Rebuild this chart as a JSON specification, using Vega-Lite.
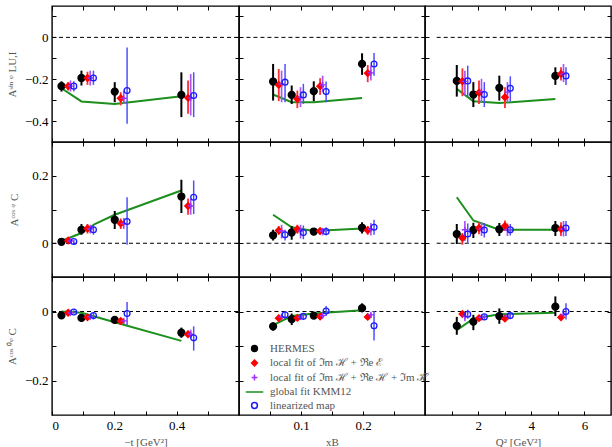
{
"$schema": "https://vega.github.io/schema/vega-lite/v6.json",
"background": "white",
"padding": {"left": 5, "top": 4, "right": 3, "bottom": 0},
"columns": 3,
"spacing": 0,
"bounds": "flush",
"datasets": {
"zero": [{"z": 0}],
"pts": [
{"p":"A1","s":"H","x":0.0304,"y":-0.233,"lo":-0.259,"hi":-0.21},
{"p":"A1","s":"H","x":0.0945,"y":-0.194,"lo":-0.23,"hi":-0.159},
{"p":"A1","s":"H","x":0.2013,"y":-0.259,"lo":-0.31,"hi":-0.214},
{"p":"A1","s":"H","x":0.4151,"y":-0.275,"lo":-0.381,"hi":-0.167},
{"p":"A1","s":"R","x":0.0518,"y":-0.233,"lo":-0.254,"hi":-0.214},
{"p":"A1","s":"R","x":0.1138,"y":-0.194,"lo":-0.227,"hi":-0.164},
{"p":"A1","s":"R","x":0.2205,"y":-0.291,"lo":-0.325,"hi":-0.262},
{"p":"A1","s":"R","x":0.4365,"y":-0.289,"lo":-0.365,"hi":-0.206},
{"p":"A1","s":"P","x":0.0593,"y":-0.233,"lo":-0.259,"hi":-0.206},
{"p":"A1","s":"P","x":0.1226,"y":-0.194,"lo":-0.23,"hi":-0.159},
{"p":"A1","s":"P","x":0.2302,"y":-0.291,"lo":-0.318,"hi":-0.254},
{"p":"A1","s":"P","x":0.445,"y":-0.289,"lo":-0.373,"hi":-0.175},
{"p":"A1","s":"B","x":0.07,"y":-0.233,"lo":-0.259,"hi":-0.21},
{"p":"A1","s":"B","x":0.133,"y":-0.194,"lo":-0.227,"hi":-0.159},
{"p":"A1","s":"B","x":0.2409,"y":-0.254,"lo":-0.413,"hi":-0.048},
{"p":"A1","s":"B","x":0.4546,"y":-0.278,"lo":-0.381,"hi":-0.167},
{"p":"A2","s":"H","x":0.055,"y":-0.211,"lo":-0.302,"hi":-0.127},
{"p":"A2","s":"H","x":0.085,"y":-0.275,"lo":-0.318,"hi":-0.23},
{"p":"A2","s":"H","x":0.1206,"y":-0.257,"lo":-0.305,"hi":-0.21},
{"p":"A2","s":"H","x":0.1985,"y":-0.127,"lo":-0.179,"hi":-0.076},
{"p":"A2","s":"R","x":0.0641,"y":-0.227,"lo":-0.305,"hi":-0.151},
{"p":"A2","s":"R","x":0.0941,"y":-0.294,"lo":-0.338,"hi":-0.254},
{"p":"A2","s":"R","x":0.1308,"y":-0.233,"lo":-0.275,"hi":-0.195},
{"p":"A2","s":"R","x":0.2076,"y":-0.171,"lo":-0.214,"hi":-0.132},
{"p":"A2","s":"P","x":0.0687,"y":-0.222,"lo":-0.31,"hi":-0.159},
{"p":"A2","s":"P","x":0.0992,"y":-0.286,"lo":-0.333,"hi":-0.238},
{"p":"A2","s":"P","x":0.1349,"y":-0.227,"lo":-0.262,"hi":-0.183},
{"p":"A2","s":"P","x":0.2127,"y":-0.17,"lo":-0.206,"hi":-0.135},
{"p":"A2","s":"B","x":0.0743,"y":-0.214,"lo":-0.31,"hi":-0.127},
{"p":"A2","s":"B","x":0.1038,"y":-0.275,"lo":-0.318,"hi":-0.222},
{"p":"A2","s":"B","x":0.1405,"y":-0.259,"lo":-0.31,"hi":-0.211},
{"p":"A2","s":"B","x":0.2178,"y":-0.127,"lo":-0.183,"hi":-0.075},
{"p":"A3","s":"H","x":1.196,"y":-0.208,"lo":-0.283,"hi":-0.132},
{"p":"A3","s":"H","x":1.82,"y":-0.273,"lo":-0.333,"hi":-0.214},
{"p":"A3","s":"H","x":2.797,"y":-0.241,"lo":-0.302,"hi":-0.183},
{"p":"A3","s":"H","x":4.906,"y":-0.184,"lo":-0.227,"hi":-0.143},
{"p":"A3","s":"R","x":1.408,"y":-0.21,"lo":-0.281,"hi":-0.148},
{"p":"A3","s":"R","x":2.032,"y":-0.265,"lo":-0.318,"hi":-0.206},
{"p":"A3","s":"R","x":3.009,"y":-0.286,"lo":-0.338,"hi":-0.238},
{"p":"A3","s":"R","x":5.118,"y":-0.175,"lo":-0.206,"hi":-0.143},
{"p":"A3","s":"P","x":1.502,"y":-0.21,"lo":-0.278,"hi":-0.159},
{"p":"A3","s":"P","x":2.126,"y":-0.259,"lo":-0.31,"hi":-0.198},
{"p":"A3","s":"P","x":3.104,"y":-0.262,"lo":-0.31,"hi":-0.214},
{"p":"A3","s":"P","x":5.212,"y":-0.175,"lo":-0.214,"hi":-0.127},
{"p":"A3","s":"B","x":1.608,"y":-0.208,"lo":-0.283,"hi":-0.135},
{"p":"A3","s":"B","x":2.232,"y":-0.273,"lo":-0.333,"hi":-0.214},
{"p":"A3","s":"B","x":3.21,"y":-0.243,"lo":-0.306,"hi":-0.186},
{"p":"A3","s":"B","x":5.306,"y":-0.184,"lo":-0.227,"hi":-0.143},
{"p":"B1","s":"H","x":0.0304,"y":0.0044,"lo":-0.0007,"hi":0.0104},
{"p":"B1","s":"H","x":0.0945,"y":0.04,"lo":0.0252,"hi":0.057},
{"p":"B1","s":"H","x":0.2013,"y":0.0696,"lo":0.0422,"hi":0.0956},
{"p":"B1","s":"H","x":0.4151,"y":0.1385,"lo":0.0896,"hi":0.1881},
{"p":"B1","s":"R","x":0.0518,"y":0.0081,"lo":0.003,"hi":0.0126},
{"p":"B1","s":"R","x":0.1138,"y":0.0437,"lo":0.0289,"hi":0.057},
{"p":"B1","s":"R","x":0.2205,"y":0.0585,"lo":0.0422,"hi":0.0733},
{"p":"B1","s":"R","x":0.4365,"y":0.1104,"lo":0.0844,"hi":0.1326},
{"p":"B1","s":"P","x":0.0593,"y":0.0067,"lo":0.0015,"hi":0.0126},
{"p":"B1","s":"P","x":0.1226,"y":0.0422,"lo":0.0289,"hi":0.0548},
{"p":"B1","s":"P","x":0.2302,"y":0.0585,"lo":0.0422,"hi":0.0748},
{"p":"B1","s":"P","x":0.445,"y":0.1104,"lo":0.0844,"hi":0.1326},
{"p":"B1","s":"B","x":0.07,"y":0.0052,"lo":-0.0007,"hi":0.0104},
{"p":"B1","s":"B","x":0.133,"y":0.04,"lo":0.0252,"hi":0.0548},
{"p":"B1","s":"B","x":0.2409,"y":0.0644,"lo":-0.0044,"hi":0.1363},
{"p":"B1","s":"B","x":0.4546,"y":0.1363,"lo":0.0867,"hi":0.1859},
{"p":"B2","s":"H","x":0.055,"y":0.0237,"lo":0.0081,"hi":0.04},
{"p":"B2","s":"H","x":0.085,"y":0.0319,"lo":0.0104,"hi":0.0511},
{"p":"B2","s":"H","x":0.1206,"y":0.0348,"lo":0.023,"hi":0.0452},
{"p":"B2","s":"H","x":0.1985,"y":0.0459,"lo":0.0289,"hi":0.0622},
{"p":"B2","s":"R","x":0.0641,"y":0.0378,"lo":0.0252,"hi":0.0511},
{"p":"B2","s":"R","x":0.0941,"y":0.0415,"lo":0.0289,"hi":0.0548},
{"p":"B2","s":"R","x":0.1308,"y":0.0363,"lo":0.0252,"hi":0.0452},
{"p":"B2","s":"R","x":0.2076,"y":0.0385,"lo":0.0252,"hi":0.0511},
{"p":"B2","s":"P","x":0.0687,"y":0.0363,"lo":0.0141,"hi":0.0548},
{"p":"B2","s":"P","x":0.0992,"y":0.0363,"lo":0.0141,"hi":0.0548},
{"p":"B2","s":"P","x":0.1349,"y":0.0363,"lo":0.023,"hi":0.0452},
{"p":"B2","s":"P","x":0.2127,"y":0.0415,"lo":0.023,"hi":0.06},
{"p":"B2","s":"B","x":0.0743,"y":0.0252,"lo":0.0081,"hi":0.04},
{"p":"B2","s":"B","x":0.1038,"y":0.0319,"lo":0.0119,"hi":0.0526},
{"p":"B2","s":"B","x":0.1405,"y":0.0348,"lo":0.023,"hi":0.0474},
{"p":"B2","s":"B","x":0.2178,"y":0.0474,"lo":0.0252,"hi":0.0696},
{"p":"B3","s":"H","x":1.196,"y":0.0274,"lo":-0.0022,"hi":0.057},
{"p":"B3","s":"H","x":1.82,"y":0.0393,"lo":0.0156,"hi":0.0607},
{"p":"B3","s":"H","x":2.797,"y":0.0415,"lo":0.0215,"hi":0.06},
{"p":"B3","s":"H","x":4.906,"y":0.0452,"lo":0.0215,"hi":0.0659},
{"p":"B3","s":"R","x":1.408,"y":0.0156,"lo":-0.0044,"hi":0.0304},
{"p":"B3","s":"R","x":2.032,"y":0.0452,"lo":0.0267,"hi":0.0622},
{"p":"B3","s":"R","x":3.009,"y":0.0511,"lo":0.0363,"hi":0.0674},
{"p":"B3","s":"R","x":5.118,"y":0.0422,"lo":0.0215,"hi":0.0622},
{"p":"B3","s":"P","x":1.502,"y":0.04,"lo":0.0067,"hi":0.0659},
{"p":"B3","s":"P","x":2.126,"y":0.0422,"lo":0.0215,"hi":0.0622},
{"p":"B3","s":"P","x":3.104,"y":0.04,"lo":0.0215,"hi":0.0585},
{"p":"B3","s":"P","x":5.212,"y":0.0422,"lo":0.02,"hi":0.0659},
{"p":"B3","s":"B","x":1.608,"y":0.0274,"lo":-0.0022,"hi":0.0585},
{"p":"B3","s":"B","x":2.232,"y":0.0393,"lo":0.017,"hi":0.06},
{"p":"B3","s":"B","x":3.21,"y":0.04,"lo":0.023,"hi":0.057},
{"p":"B3","s":"B","x":5.306,"y":0.0452,"lo":0.0215,"hi":0.0659},
{"p":"C1","s":"H","x":0.0304,"y":-0.0111,"lo":-0.0207,"hi":-0.0037},
{"p":"C1","s":"H","x":0.0945,"y":-0.0185,"lo":-0.0296,"hi":-0.0081},
{"p":"C1","s":"H","x":0.2013,"y":-0.0244,"lo":-0.0333,"hi":-0.017},
{"p":"C1","s":"H","x":0.4151,"y":-0.0615,"lo":-0.0763,"hi":-0.0467},
{"p":"C1","s":"R","x":0.0518,"y":-0.0037,"lo":-0.0096,"hi":0.0015},
{"p":"C1","s":"R","x":0.1138,"y":-0.017,"lo":-0.0244,"hi":-0.0096},
{"p":"C1","s":"R","x":0.2205,"y":-0.0274,"lo":-0.0341,"hi":-0.0207},
{"p":"C1","s":"R","x":0.4365,"y":-0.0659,"lo":-0.0748,"hi":-0.0556},
{"p":"C1","s":"P","x":0.0593,"y":-0.0037,"lo":-0.0096,"hi":0.0015},
{"p":"C1","s":"P","x":0.1226,"y":-0.0156,"lo":-0.0207,"hi":-0.0096},
{"p":"C1","s":"P","x":0.2302,"y":-0.0274,"lo":-0.0356,"hi":-0.0207},
{"p":"C1","s":"P","x":0.445,"y":-0.0659,"lo":-0.0778,"hi":-0.0526},
{"p":"C1","s":"B","x":0.07,"y":-0.0015,"lo":-0.0059,"hi":0.0037},
{"p":"C1","s":"B","x":0.133,"y":-0.0119,"lo":-0.023,"hi":-0.0022},
{"p":"C1","s":"B","x":0.2409,"y":-0.0059,"lo":-0.0393,"hi":0.0274},
{"p":"C1","s":"B","x":0.4546,"y":-0.0763,"lo":-0.1133,"hi":-0.043},
{"p":"C2","s":"H","x":0.055,"y":-0.043,"lo":-0.0556,"hi":-0.0319},
{"p":"C2","s":"H","x":0.085,"y":-0.0222,"lo":-0.0393,"hi":-0.0059},
{"p":"C2","s":"H","x":0.1206,"y":-0.0119,"lo":-0.0207,"hi":-0.0037},
{"p":"C2","s":"H","x":0.1985,"y":0.0096,"lo":-0.0022,"hi":0.0237},
{"p":"C2","s":"R","x":0.0641,"y":-0.0193,"lo":-0.0244,"hi":-0.0133},
{"p":"C2","s":"R","x":0.0941,"y":-0.0185,"lo":-0.023,"hi":-0.0133},
{"p":"C2","s":"R","x":0.1308,"y":-0.0148,"lo":-0.0207,"hi":-0.0096},
{"p":"C2","s":"R","x":0.2076,"y":-0.0156,"lo":-0.0207,"hi":-0.0096},
{"p":"C2","s":"P","x":0.0687,"y":-0.0156,"lo":-0.023,"hi":-0.0081},
{"p":"C2","s":"P","x":0.0992,"y":-0.0156,"lo":-0.023,"hi":-0.0096},
{"p":"C2","s":"P","x":0.1349,"y":-0.0119,"lo":-0.0185,"hi":-0.0059},
{"p":"C2","s":"P","x":0.2127,"y":-0.0096,"lo":-0.0156,"hi":-0.0037},
{"p":"C2","s":"B","x":0.0743,"y":-0.0096,"lo":-0.0207,"hi":-0.0007},
{"p":"C2","s":"B","x":0.1038,"y":-0.0141,"lo":-0.023,"hi":-0.0059},
{"p":"C2","s":"B","x":0.1405,"y":0.0015,"lo":-0.0133,"hi":0.0163},
{"p":"C2","s":"B","x":0.2178,"y":-0.0415,"lo":-0.0837,"hi":0.0015},
{"p":"C3","s":"H","x":1.196,"y":-0.0415,"lo":-0.0674,"hi":-0.0156},
{"p":"C3","s":"H","x":1.82,"y":-0.0296,"lo":-0.0541,"hi":-0.0096},
{"p":"C3","s":"H","x":2.797,"y":-0.0133,"lo":-0.0356,"hi":0.0089},
{"p":"C3","s":"H","x":4.906,"y":0.0141,"lo":-0.0133,"hi":0.0437},
{"p":"C3","s":"R","x":1.408,"y":-0.0074,"lo":-0.0133,"hi":-0.0022},
{"p":"C3","s":"R","x":2.032,"y":-0.0193,"lo":-0.0244,"hi":-0.0133},
{"p":"C3","s":"R","x":3.009,"y":-0.0207,"lo":-0.0259,"hi":-0.0156},
{"p":"C3","s":"R","x":5.118,"y":-0.017,"lo":-0.023,"hi":-0.0111},
{"p":"C3","s":"P","x":1.502,"y":-0.0133,"lo":-0.0281,"hi":-0.0037},
{"p":"C3","s":"P","x":2.126,"y":-0.017,"lo":-0.023,"hi":-0.0096},
{"p":"C3","s":"P","x":3.104,"y":-0.0133,"lo":-0.0207,"hi":-0.0059},
{"p":"C3","s":"P","x":5.212,"y":-0.0096,"lo":-0.0185,"hi":0.0015},
{"p":"C3","s":"B","x":1.608,"y":-0.0081,"lo":-0.0207,"hi":0.0052},
{"p":"C3","s":"B","x":2.232,"y":-0.0156,"lo":-0.023,"hi":-0.0081},
{"p":"C3","s":"B","x":3.21,"y":-0.0119,"lo":-0.0185,"hi":-0.0059},
{"p":"C3","s":"B","x":5.306,"y":0.0,"lo":-0.023,"hi":0.0237}
],
"lines": [
{"p":"A1","x":0.0304,"y":-0.243},{"p":"A1","x":0.0945,"y":-0.306},{"p":"A1","x":0.2013,"y":-0.318},{"p":"A1","x":0.4151,"y":-0.281},
{"p":"A2","x":0.055,"y":-0.273},{"p":"A2","x":0.085,"y":-0.31},{"p":"A2","x":0.1206,"y":-0.31},{"p":"A2","x":0.1985,"y":-0.29},
{"p":"A3","x":1.196,"y":-0.246},{"p":"A3","x":1.82,"y":-0.305},{"p":"A3","x":2.797,"y":-0.314},{"p":"A3","x":4.906,"y":-0.294},
{"p":"B1","x":0.0304,"y":0.0067},{"p":"B1","x":0.0945,"y":0.0304},{"p":"B1","x":0.1373,"y":0.057},{"p":"B1","x":0.2013,"y":0.0844},{"p":"B1","x":0.4151,"y":0.1563},
{"p":"B2","x":0.055,"y":0.0844},{"p":"B2","x":0.085,"y":0.0474},{"p":"B2","x":0.1206,"y":0.0363},{"p":"B2","x":0.1985,"y":0.0437},
{"p":"B3","x":1.196,"y":0.1363},{"p":"B3","x":1.82,"y":0.0674},{"p":"B3","x":2.797,"y":0.04},{"p":"B3","x":4.906,"y":0.04},
{"p":"C1","x":0.0304,"y":0.0},{"p":"C1","x":0.0945,"y":-0.0037},{"p":"C1","x":0.2013,"y":-0.031},{"p":"C1","x":0.4151,"y":-0.0852},
{"p":"C2","x":0.055,"y":-0.0393},{"p":"C2","x":0.085,"y":-0.0133},{"p":"C2","x":0.1206,"y":-0.0059},{"p":"C2","x":0.1985,"y":0.0037},
{"p":"C3","x":1.196,"y":-0.0541},{"p":"C3","x":1.82,"y":-0.0207},{"p":"C3","x":2.797,"y":-0.0081},{"p":"C3","x":4.906,"y":-0.0037}
]
},
"concat": [
{"width":187,"height":136,"resolve":{"axis":{"x":"independent","y":"independent"}},
 "layer":[
  {"data":{"name":"zero"},"mark":{"type":"rule","strokeDash":[4,3],"color":"#000","strokeWidth":1},"encoding":{"x":{"datum":0,"type":"quantitative","axis":null},"x2":{"datum":0.6},"y":{"field":"z","type":"quantitative","axis":null}}},
  {"data":{"name":"lines"},"transform":[{"filter":"datum.p==='A1'"}],"mark":{"type":"line","color":"#1c8f1c","strokeWidth":2},
   "encoding":{"x":{"field":"x","type":"quantitative","scale":{"domain":[0,0.6]},"axis":{"orient":"top","values":[0,0.1,0.2,0.3,0.4,0.5],"labels":false,"title":null}},
   "y":{"field":"y","type":"quantitative","scale":{"domain":[-0.5,0.148]},"axis":{"orient":"right","values":[-0.4,-0.3,-0.2,-0.1,0,0.1],"labels":false,"title":null}}}},
  {"data":{"name":"pts"},"transform":[{"filter":"datum.p==='A1'"}],"mark":{"type":"rule"},
   "encoding":{"x":{"field":"x","type":"quantitative","axis":null},"y":{"field":"lo","type":"quantitative","axis":null},"y2":{"field":"hi"},
   "color":{"field":"s","type":"nominal","scale":{"domain":["H","R","P","B"],"range":["#000000","#ff3030","#a855f7","#4f4fff"]},"legend":null},
   "strokeWidth":{"field":"s","type":"ordinal","scale":{"domain":["H","R","P","B"],"range":[2,1.5,1.5,1.5]},"legend":null}}},
  {"data":{"name":"pts"},"transform":[{"filter":"datum.p==='A1'"}],"mark":{"type":"point","strokeWidth":1.3,"opacity":1},
   "encoding":{"x":{"field":"x","type":"quantitative","axis":{"orient":"bottom","values":[0,0.1,0.2,0.3,0.4,0.5],"labels":false,"title":null}},
   "y":{"field":"y","type":"quantitative","axis":{"orient":"left","values":[-0.4,-0.3,-0.2,-0.1,0,0.1],"format":"~g","labelExpr":"round(datum.value*10)%2===0 ? datum.label : ''","title":"Aˢⁱⁿ ᵠ LU,I","minExtent":26,"titlePadding":7}},
   "shape":{"field":"s","type":"nominal","scale":{"domain":["H","R","P","G","B"],"range":["circle","diamond","M-1,0H1M0,-1V1","M-3,0H3","circle"]},"legend":{"title":null,"labelExpr":"datum.label==='H' ? 'HERMES' : datum.label==='R' ? 'local fit of ℑm ℋ + ℜe ℰ' : datum.label==='P' ? 'local fit of ℑm ℋ + ℜe ℋ + ℑm ℋ̃' : datum.label==='G' ? 'global fit KMM12' : 'linearized map'"}},
   "fill":{"field":"s","type":"nominal","scale":{"domain":["H","R","P","G","B"],"range":["#000000","#ff0000","transparent","transparent","transparent"]},"legend":{"title":null}},
   "stroke":{"field":"s","type":"nominal","scale":{"domain":["H","R","P","G","B"],"range":["#000000","#ff0000","#9b30ff","#1c8f1c","#1a1aff"]},"legend":{"title":null}},
   "size":{"field":"s","type":"ordinal","scale":{"domain":["H","R","P","B"],"range":[48,34,45,38]},"legend":null}}}
 ]},
{"width":186,"height":136,"resolve":{"axis":{"x":"independent","y":"independent"}},
 "layer":[
  {"data":{"name":"zero"},"mark":{"type":"rule","strokeDash":[4,3],"color":"#000","strokeWidth":1},"encoding":{"x":{"datum":0.012,"type":"quantitative","axis":null},"x2":{"datum":0.296},"y":{"field":"z","type":"quantitative","axis":null}}},
  {"data":{"name":"lines"},"transform":[{"filter":"datum.p==='A2'"}],"mark":{"type":"line","color":"#1c8f1c","strokeWidth":2},
   "encoding":{"x":{"field":"x","type":"quantitative","scale":{"domain":[0.012,0.296]},"axis":{"orient":"top","values":[0.05,0.1,0.15,0.2,0.25],"labels":false,"title":null}},
   "y":{"field":"y","type":"quantitative","scale":{"domain":[-0.5,0.148]},"axis":{"orient":"right","values":[-0.4,-0.3,-0.2,-0.1,0,0.1],"labels":false,"title":null}}}},
  {"data":{"name":"pts"},"transform":[{"filter":"datum.p==='A2'"}],"mark":{"type":"rule"},
   "encoding":{"x":{"field":"x","type":"quantitative","axis":null},"y":{"field":"lo","type":"quantitative","axis":null},"y2":{"field":"hi"},
   "color":{"field":"s","type":"nominal","scale":{"domain":["H","R","P","B"],"range":["#000000","#ff3030","#a855f7","#4f4fff"]},"legend":null},
   "strokeWidth":{"field":"s","type":"ordinal","scale":{"domain":["H","R","P","B"],"range":[2,1.5,1.5,1.5]},"legend":null}}},
  {"data":{"name":"pts"},"transform":[{"filter":"datum.p==='A2'"}],"mark":{"type":"point","strokeWidth":1.3,"opacity":1},
   "encoding":{"x":{"field":"x","type":"quantitative","axis":{"orient":"bottom","values":[0.05,0.1,0.15,0.2,0.25],"labels":false,"title":null}},
   "y":{"field":"y","type":"quantitative","axis":{"orient":"left","values":[-0.4,-0.3,-0.2,-0.1,0,0.1],"labels":false,"title":null}},
   "shape":{"field":"s","type":"nominal","scale":{"domain":["H","R","P","G","B"],"range":["circle","diamond","M-1,0H1M0,-1V1","M-3,0H3","circle"]},"legend":{"title":null,"labelExpr":"datum.label==='H' ? 'HERMES' : datum.label==='R' ? 'local fit of ℑm ℋ + ℜe ℰ' : datum.label==='P' ? 'local fit of ℑm ℋ + ℜe ℋ + ℑm ℋ̃' : datum.label==='G' ? 'global fit KMM12' : 'linearized map'"}},
   "fill":{"field":"s","type":"nominal","scale":{"domain":["H","R","P","G","B"],"range":["#000000","#ff0000","transparent","transparent","transparent"]},"legend":{"title":null}},
   "stroke":{"field":"s","type":"nominal","scale":{"domain":["H","R","P","G","B"],"range":["#000000","#ff0000","#9b30ff","#1c8f1c","#1a1aff"]},"legend":{"title":null}},
   "size":{"field":"s","type":"ordinal","scale":{"domain":["H","R","P","B"],"range":[48,34,45,38]},"legend":null}}}
 ]},
{"width":186,"height":136,"resolve":{"axis":{"x":"independent","y":"independent"}},
 "layer":[
  {"data":{"name":"zero"},"mark":{"type":"rule","strokeDash":[4,3],"color":"#000","strokeWidth":1},"encoding":{"x":{"datum":0.44,"type":"quantitative","axis":null},"x2":{"datum":7.0},"y":{"field":"z","type":"quantitative","axis":null}}},
  {"data":{"name":"lines"},"transform":[{"filter":"datum.p==='A3'"}],"mark":{"type":"line","color":"#1c8f1c","strokeWidth":2},
   "encoding":{"x":{"field":"x","type":"quantitative","scale":{"domain":[0.44,7.0]},"axis":{"orient":"top","values":[1,2,3,4,5,6],"labels":false,"title":null}},
   "y":{"field":"y","type":"quantitative","scale":{"domain":[-0.5,0.148]},"axis":{"orient":"right","values":[-0.4,-0.3,-0.2,-0.1,0,0.1],"labels":false,"title":null}}}},
  {"data":{"name":"pts"},"transform":[{"filter":"datum.p==='A3'"}],"mark":{"type":"rule"},
   "encoding":{"x":{"field":"x","type":"quantitative","axis":null},"y":{"field":"lo","type":"quantitative","axis":null},"y2":{"field":"hi"},
   "color":{"field":"s","type":"nominal","scale":{"domain":["H","R","P","B"],"range":["#000000","#ff3030","#a855f7","#4f4fff"]},"legend":null},
   "strokeWidth":{"field":"s","type":"ordinal","scale":{"domain":["H","R","P","B"],"range":[2,1.5,1.5,1.5]},"legend":null}}},
  {"data":{"name":"pts"},"transform":[{"filter":"datum.p==='A3'"}],"mark":{"type":"point","strokeWidth":1.3,"opacity":1},
   "encoding":{"x":{"field":"x","type":"quantitative","axis":{"orient":"bottom","values":[1,2,3,4,5,6],"labels":false,"title":null}},
   "y":{"field":"y","type":"quantitative","axis":{"orient":"left","values":[-0.4,-0.3,-0.2,-0.1,0,0.1],"labels":false,"title":null}},
   "shape":{"field":"s","type":"nominal","scale":{"domain":["H","R","P","G","B"],"range":["circle","diamond","M-1,0H1M0,-1V1","M-3,0H3","circle"]},"legend":{"title":null,"labelExpr":"datum.label==='H' ? 'HERMES' : datum.label==='R' ? 'local fit of ℑm ℋ + ℜe ℰ' : datum.label==='P' ? 'local fit of ℑm ℋ + ℜe ℋ + ℑm ℋ̃' : datum.label==='G' ? 'global fit KMM12' : 'linearized map'"}},
   "fill":{"field":"s","type":"nominal","scale":{"domain":["H","R","P","G","B"],"range":["#000000","#ff0000","transparent","transparent","transparent"]},"legend":{"title":null}},
   "stroke":{"field":"s","type":"nominal","scale":{"domain":["H","R","P","G","B"],"range":["#000000","#ff0000","#9b30ff","#1c8f1c","#1a1aff"]},"legend":{"title":null}},
   "size":{"field":"s","type":"ordinal","scale":{"domain":["H","R","P","B"],"range":[48,34,45,38]},"legend":null}}}
 ]},
{"width":187,"height":135,"resolve":{"axis":{"x":"independent","y":"independent"}},
 "layer":[
  {"data":{"name":"zero"},"mark":{"type":"rule","strokeDash":[4,3],"color":"#000","strokeWidth":1},"encoding":{"x":{"datum":0,"type":"quantitative","axis":null},"x2":{"datum":0.6},"y":{"field":"z","type":"quantitative","axis":null}}},
  {"data":{"name":"lines"},"transform":[{"filter":"datum.p==='B1'"}],"mark":{"type":"line","color":"#1c8f1c","strokeWidth":2},
   "encoding":{"x":{"field":"x","type":"quantitative","scale":{"domain":[0,0.6]},"axis":{"orient":"top","values":[0,0.1,0.2,0.3,0.4,0.5],"labels":false,"title":null}},
   "y":{"field":"y","type":"quantitative","scale":{"domain":[-0.0489,0.2511]},"axis":{"orient":"right","values":[0,0.1,0.2],"labels":false,"title":null}}}},
  {"data":{"name":"pts"},"transform":[{"filter":"datum.p==='B1'"}],"mark":{"type":"rule"},
   "encoding":{"x":{"field":"x","type":"quantitative","axis":null},"y":{"field":"lo","type":"quantitative","axis":null},"y2":{"field":"hi"},
   "color":{"field":"s","type":"nominal","scale":{"domain":["H","R","P","B"],"range":["#000000","#ff3030","#a855f7","#4f4fff"]},"legend":null},
   "strokeWidth":{"field":"s","type":"ordinal","scale":{"domain":["H","R","P","B"],"range":[2,1.5,1.5,1.5]},"legend":null}}},
  {"data":{"name":"pts"},"transform":[{"filter":"datum.p==='B1'"}],"mark":{"type":"point","strokeWidth":1.3,"opacity":1},
   "encoding":{"x":{"field":"x","type":"quantitative","axis":{"orient":"bottom","values":[0,0.1,0.2,0.3,0.4,0.5],"labels":false,"title":null}},
   "y":{"field":"y","type":"quantitative","axis":{"orient":"left","values":[0,0.1,0.2],"format":"~g","labelExpr":"round(datum.value*10)%2===0 ? datum.label : ''","title":"Aᶜᵒˢ ᵠ C","minExtent":26,"titlePadding":7}},
   "shape":{"field":"s","type":"nominal","scale":{"domain":["H","R","P","G","B"],"range":["circle","diamond","M-1,0H1M0,-1V1","M-3,0H3","circle"]},"legend":{"title":null,"labelExpr":"datum.label==='H' ? 'HERMES' : datum.label==='R' ? 'local fit of ℑm ℋ + ℜe ℰ' : datum.label==='P' ? 'local fit of ℑm ℋ + ℜe ℋ + ℑm ℋ̃' : datum.label==='G' ? 'global fit KMM12' : 'linearized map'"}},
   "fill":{"field":"s","type":"nominal","scale":{"domain":["H","R","P","G","B"],"range":["#000000","#ff0000","transparent","transparent","transparent"]},"legend":{"title":null}},
   "stroke":{"field":"s","type":"nominal","scale":{"domain":["H","R","P","G","B"],"range":["#000000","#ff0000","#9b30ff","#1c8f1c","#1a1aff"]},"legend":{"title":null}},
   "size":{"field":"s","type":"ordinal","scale":{"domain":["H","R","P","B"],"range":[48,34,45,38]},"legend":null}}}
 ]},
{"width":186,"height":135,"resolve":{"axis":{"x":"independent","y":"independent"}},
 "layer":[
  {"data":{"name":"zero"},"mark":{"type":"rule","strokeDash":[4,3],"color":"#000","strokeWidth":1},"encoding":{"x":{"datum":0.012,"type":"quantitative","axis":null},"x2":{"datum":0.296},"y":{"field":"z","type":"quantitative","axis":null}}},
  {"data":{"name":"lines"},"transform":[{"filter":"datum.p==='B2'"}],"mark":{"type":"line","color":"#1c8f1c","strokeWidth":2},
   "encoding":{"x":{"field":"x","type":"quantitative","scale":{"domain":[0.012,0.296]},"axis":{"orient":"top","values":[0.05,0.1,0.15,0.2,0.25],"labels":false,"title":null}},
   "y":{"field":"y","type":"quantitative","scale":{"domain":[-0.0489,0.2511]},"axis":{"orient":"right","values":[0,0.1,0.2],"labels":false,"title":null}}}},
  {"data":{"name":"pts"},"transform":[{"filter":"datum.p==='B2'"}],"mark":{"type":"rule"},
   "encoding":{"x":{"field":"x","type":"quantitative","axis":null},"y":{"field":"lo","type":"quantitative","axis":null},"y2":{"field":"hi"},
   "color":{"field":"s","type":"nominal","scale":{"domain":["H","R","P","B"],"range":["#000000","#ff3030","#a855f7","#4f4fff"]},"legend":null},
   "strokeWidth":{"field":"s","type":"ordinal","scale":{"domain":["H","R","P","B"],"range":[2,1.5,1.5,1.5]},"legend":null}}},
  {"data":{"name":"pts"},"transform":[{"filter":"datum.p==='B2'"}],"mark":{"type":"point","strokeWidth":1.3,"opacity":1},
   "encoding":{"x":{"field":"x","type":"quantitative","axis":{"orient":"bottom","values":[0.05,0.1,0.15,0.2,0.25],"labels":false,"title":null}},
   "y":{"field":"y","type":"quantitative","axis":{"orient":"left","values":[0,0.1,0.2],"labels":false,"title":null}},
   "shape":{"field":"s","type":"nominal","scale":{"domain":["H","R","P","G","B"],"range":["circle","diamond","M-1,0H1M0,-1V1","M-3,0H3","circle"]},"legend":{"title":null,"labelExpr":"datum.label==='H' ? 'HERMES' : datum.label==='R' ? 'local fit of ℑm ℋ + ℜe ℰ' : datum.label==='P' ? 'local fit of ℑm ℋ + ℜe ℋ + ℑm ℋ̃' : datum.label==='G' ? 'global fit KMM12' : 'linearized map'"}},
   "fill":{"field":"s","type":"nominal","scale":{"domain":["H","R","P","G","B"],"range":["#000000","#ff0000","transparent","transparent","transparent"]},"legend":{"title":null}},
   "stroke":{"field":"s","type":"nominal","scale":{"domain":["H","R","P","G","B"],"range":["#000000","#ff0000","#9b30ff","#1c8f1c","#1a1aff"]},"legend":{"title":null}},
   "size":{"field":"s","type":"ordinal","scale":{"domain":["H","R","P","B"],"range":[48,34,45,38]},"legend":null}}}
 ]},
{"width":186,"height":135,"resolve":{"axis":{"x":"independent","y":"independent"}},
 "layer":[
  {"data":{"name":"zero"},"mark":{"type":"rule","strokeDash":[4,3],"color":"#000","strokeWidth":1},"encoding":{"x":{"datum":0.44,"type":"quantitative","axis":null},"x2":{"datum":7.0},"y":{"field":"z","type":"quantitative","axis":null}}},
  {"data":{"name":"lines"},"transform":[{"filter":"datum.p==='B3'"}],"mark":{"type":"line","color":"#1c8f1c","strokeWidth":2},
   "encoding":{"x":{"field":"x","type":"quantitative","scale":{"domain":[0.44,7.0]},"axis":{"orient":"top","values":[1,2,3,4,5,6],"labels":false,"title":null}},
   "y":{"field":"y","type":"quantitative","scale":{"domain":[-0.0489,0.2511]},"axis":{"orient":"right","values":[0,0.1,0.2],"labels":false,"title":null}}}},
  {"data":{"name":"pts"},"transform":[{"filter":"datum.p==='B3'"}],"mark":{"type":"rule"},
   "encoding":{"x":{"field":"x","type":"quantitative","axis":null},"y":{"field":"lo","type":"quantitative","axis":null},"y2":{"field":"hi"},
   "color":{"field":"s","type":"nominal","scale":{"domain":["H","R","P","B"],"range":["#000000","#ff3030","#a855f7","#4f4fff"]},"legend":null},
   "strokeWidth":{"field":"s","type":"ordinal","scale":{"domain":["H","R","P","B"],"range":[2,1.5,1.5,1.5]},"legend":null}}},
  {"data":{"name":"pts"},"transform":[{"filter":"datum.p==='B3'"}],"mark":{"type":"point","strokeWidth":1.3,"opacity":1},
   "encoding":{"x":{"field":"x","type":"quantitative","axis":{"orient":"bottom","values":[1,2,3,4,5,6],"labels":false,"title":null}},
   "y":{"field":"y","type":"quantitative","axis":{"orient":"left","values":[0,0.1,0.2],"labels":false,"title":null}},
   "shape":{"field":"s","type":"nominal","scale":{"domain":["H","R","P","G","B"],"range":["circle","diamond","M-1,0H1M0,-1V1","M-3,0H3","circle"]},"legend":{"title":null,"labelExpr":"datum.label==='H' ? 'HERMES' : datum.label==='R' ? 'local fit of ℑm ℋ + ℜe ℰ' : datum.label==='P' ? 'local fit of ℑm ℋ + ℜe ℋ + ℑm ℋ̃' : datum.label==='G' ? 'global fit KMM12' : 'linearized map'"}},
   "fill":{"field":"s","type":"nominal","scale":{"domain":["H","R","P","G","B"],"range":["#000000","#ff0000","transparent","transparent","transparent"]},"legend":{"title":null}},
   "stroke":{"field":"s","type":"nominal","scale":{"domain":["H","R","P","G","B"],"range":["#000000","#ff0000","#9b30ff","#1c8f1c","#1a1aff"]},"legend":{"title":null}},
   "size":{"field":"s","type":"ordinal","scale":{"domain":["H","R","P","B"],"range":[48,34,45,38]},"legend":null}}}
 ]},
{"width":187,"height":138,"resolve":{"axis":{"x":"independent","y":"independent"}},
 "layer":[
  {"data":{"name":"zero"},"mark":{"type":"rule","strokeDash":[4,3],"color":"#000","strokeWidth":1},"encoding":{"x":{"datum":0,"type":"quantitative","axis":null},"x2":{"datum":0.6},"y":{"field":"z","type":"quantitative","axis":null}}},
  {"data":{"name":"lines"},"transform":[{"filter":"datum.p==='C1'"}],"mark":{"type":"line","color":"#1c8f1c","strokeWidth":2},
   "encoding":{"x":{"field":"x","type":"quantitative","scale":{"domain":[0,0.6]},"axis":{"orient":"top","values":[0,0.1,0.2,0.3,0.4,0.5],"labels":false,"title":null}},
   "y":{"field":"y","type":"quantitative","scale":{"domain":[-0.2533,0.0533]},"axis":{"orient":"right","values":[-0.2,-0.1,0],"labels":false,"title":null}}}},
  {"data":{"name":"pts"},"transform":[{"filter":"datum.p==='C1'"}],"mark":{"type":"rule"},
   "encoding":{"x":{"field":"x","type":"quantitative","axis":null},"y":{"field":"lo","type":"quantitative","axis":null},"y2":{"field":"hi"},
   "color":{"field":"s","type":"nominal","scale":{"domain":["H","R","P","B"],"range":["#000000","#ff3030","#a855f7","#4f4fff"]},"legend":null},
   "strokeWidth":{"field":"s","type":"ordinal","scale":{"domain":["H","R","P","B"],"range":[2,1.5,1.5,1.5]},"legend":null}}},
  {"data":{"name":"pts"},"transform":[{"filter":"datum.p==='C1'"}],"mark":{"type":"point","strokeWidth":1.3,"opacity":1},
   "encoding":{"x":{"field":"x","type":"quantitative","axis":{"orient":"bottom","values":[0,0.1,0.2,0.3,0.4,0.5],"format":"~g","labelExpr":"round(datum.value*10)%2===0 ? datum.label : ''","title":"−t [GeV²]","titlePadding":4}},
   "y":{"field":"y","type":"quantitative","axis":{"orient":"left","values":[-0.2,-0.1,0],"format":"~g","labelExpr":"round(datum.value*10)%2===0 ? datum.label : ''","title":"Aᶜᵒˢ ⁰ᵠ C","minExtent":26,"titlePadding":7}},
   "shape":{"field":"s","type":"nominal","scale":{"domain":["H","R","P","G","B"],"range":["circle","diamond","M-1,0H1M0,-1V1","M-3,0H3","circle"]},"legend":{"title":null,"labelExpr":"datum.label==='H' ? 'HERMES' : datum.label==='R' ? 'local fit of ℑm ℋ + ℜe ℰ' : datum.label==='P' ? 'local fit of ℑm ℋ + ℜe ℋ + ℑm ℋ̃' : datum.label==='G' ? 'global fit KMM12' : 'linearized map'"}},
   "fill":{"field":"s","type":"nominal","scale":{"domain":["H","R","P","G","B"],"range":["#000000","#ff0000","transparent","transparent","transparent"]},"legend":{"title":null}},
   "stroke":{"field":"s","type":"nominal","scale":{"domain":["H","R","P","G","B"],"range":["#000000","#ff0000","#9b30ff","#1c8f1c","#1a1aff"]},"legend":{"title":null}},
   "size":{"field":"s","type":"ordinal","scale":{"domain":["H","R","P","B"],"range":[48,34,45,38]},"legend":null}}}
 ]},
{"width":186,"height":138,"resolve":{"axis":{"x":"independent","y":"independent"}},
 "layer":[
  {"data":{"name":"zero"},"mark":{"type":"rule","strokeDash":[4,3],"color":"#000","strokeWidth":1},"encoding":{"x":{"datum":0.012,"type":"quantitative","axis":null},"x2":{"datum":0.296},"y":{"field":"z","type":"quantitative","axis":null}}},
  {"data":{"name":"lines"},"transform":[{"filter":"datum.p==='C2'"}],"mark":{"type":"line","color":"#1c8f1c","strokeWidth":2},
   "encoding":{"x":{"field":"x","type":"quantitative","scale":{"domain":[0.012,0.296]},"axis":{"orient":"top","values":[0.05,0.1,0.15,0.2,0.25],"labels":false,"title":null}},
   "y":{"field":"y","type":"quantitative","scale":{"domain":[-0.2533,0.0533]},"axis":{"orient":"right","values":[-0.2,-0.1,0],"labels":false,"title":null}}}},
  {"data":{"name":"pts"},"transform":[{"filter":"datum.p==='C2'"}],"mark":{"type":"rule"},
   "encoding":{"x":{"field":"x","type":"quantitative","axis":null},"y":{"field":"lo","type":"quantitative","axis":null},"y2":{"field":"hi"},
   "color":{"field":"s","type":"nominal","scale":{"domain":["H","R","P","B"],"range":["#000000","#ff3030","#a855f7","#4f4fff"]},"legend":null},
   "strokeWidth":{"field":"s","type":"ordinal","scale":{"domain":["H","R","P","B"],"range":[2,1.5,1.5,1.5]},"legend":null}}},
  {"data":{"name":"pts"},"transform":[{"filter":"datum.p==='C2'"}],"mark":{"type":"point","strokeWidth":1.3,"opacity":1},
   "encoding":{"x":{"field":"x","type":"quantitative","axis":{"orient":"bottom","values":[0.05,0.1,0.15,0.2,0.25],"format":"~g","labelExpr":"round(datum.value*20)%2===0 ? datum.label : ''","title":"xB","titlePadding":4}},
   "y":{"field":"y","type":"quantitative","axis":{"orient":"left","values":[-0.2,-0.1,0],"labels":false,"title":null}},
   "shape":{"field":"s","type":"nominal","scale":{"domain":["H","R","P","G","B"],"range":["circle","diamond","M-1,0H1M0,-1V1","M-3,0H3","circle"]},"legend":{"title":null,"labelExpr":"datum.label==='H' ? 'HERMES' : datum.label==='R' ? 'local fit of ℑm ℋ + ℜe ℰ' : datum.label==='P' ? 'local fit of ℑm ℋ + ℜe ℋ + ℑm ℋ̃' : datum.label==='G' ? 'global fit KMM12' : 'linearized map'"}},
   "fill":{"field":"s","type":"nominal","scale":{"domain":["H","R","P","G","B"],"range":["#000000","#ff0000","transparent","transparent","transparent"]},"legend":{"title":null}},
   "stroke":{"field":"s","type":"nominal","scale":{"domain":["H","R","P","G","B"],"range":["#000000","#ff0000","#9b30ff","#1c8f1c","#1a1aff"]},"legend":{"title":null}},
   "size":{"field":"s","type":"ordinal","scale":{"domain":["H","R","P","B"],"range":[48,34,45,38]},"legend":null}}}
 ]},
{"width":186,"height":138,"resolve":{"axis":{"x":"independent","y":"independent"}},
 "layer":[
  {"data":{"name":"zero"},"mark":{"type":"rule","strokeDash":[4,3],"color":"#000","strokeWidth":1},"encoding":{"x":{"datum":0.44,"type":"quantitative","axis":null},"x2":{"datum":7.0},"y":{"field":"z","type":"quantitative","axis":null}}},
  {"data":{"name":"lines"},"transform":[{"filter":"datum.p==='C3'"}],"mark":{"type":"line","color":"#1c8f1c","strokeWidth":2},
   "encoding":{"x":{"field":"x","type":"quantitative","scale":{"domain":[0.44,7.0]},"axis":{"orient":"top","values":[1,2,3,4,5,6],"labels":false,"title":null}},
   "y":{"field":"y","type":"quantitative","scale":{"domain":[-0.2533,0.0533]},"axis":{"orient":"right","values":[-0.2,-0.1,0],"labels":false,"title":null}}}},
  {"data":{"name":"pts"},"transform":[{"filter":"datum.p==='C3'"}],"mark":{"type":"rule"},
   "encoding":{"x":{"field":"x","type":"quantitative","axis":null},"y":{"field":"lo","type":"quantitative","axis":null},"y2":{"field":"hi"},
   "color":{"field":"s","type":"nominal","scale":{"domain":["H","R","P","B"],"range":["#000000","#ff3030","#a855f7","#4f4fff"]},"legend":null},
   "strokeWidth":{"field":"s","type":"ordinal","scale":{"domain":["H","R","P","B"],"range":[2,1.5,1.5,1.5]},"legend":null}}},
  {"data":{"name":"pts"},"transform":[{"filter":"datum.p==='C3'"}],"mark":{"type":"point","strokeWidth":1.3,"opacity":1},
   "encoding":{"x":{"field":"x","type":"quantitative","axis":{"orient":"bottom","values":[1,2,3,4,5,6],"format":"~g","labelExpr":"datum.value%2===0 ? datum.label : ''","title":"Q² [GeV²]","titlePadding":4}},
   "y":{"field":"y","type":"quantitative","axis":{"orient":"left","values":[-0.2,-0.1,0],"labels":false,"title":null}},
   "shape":{"field":"s","type":"nominal","scale":{"domain":["H","R","P","G","B"],"range":["circle","diamond","M-1,0H1M0,-1V1","M-3,0H3","circle"]},"legend":{"title":null,"labelExpr":"datum.label==='H' ? 'HERMES' : datum.label==='R' ? 'local fit of ℑm ℋ + ℜe ℰ' : datum.label==='P' ? 'local fit of ℑm ℋ + ℜe ℋ + ℑm ℋ̃' : datum.label==='G' ? 'global fit KMM12' : 'linearized map'"}},
   "fill":{"field":"s","type":"nominal","scale":{"domain":["H","R","P","G","B"],"range":["#000000","#ff0000","transparent","transparent","transparent"]},"legend":{"title":null}},
   "stroke":{"field":"s","type":"nominal","scale":{"domain":["H","R","P","G","B"],"range":["#000000","#ff0000","#9b30ff","#1c8f1c","#1a1aff"]},"legend":{"title":null}},
   "size":{"field":"s","type":"ordinal","scale":{"domain":["H","R","P","B"],"range":[48,34,45,38]},"legend":null}}}
 ]}
],
"config": {
 "font": "Liberation Serif",
 "view": {"stroke": "#000", "strokeWidth": 1.4},
 "axis": {"domain": false, "grid": false, "ticks": true, "tickColor": "#000", "tickWidth": 1, "tickSize": -4, "labelFont": "Liberation Serif", "labelFontSize": 13, "labelColor": "#000", "labelPadding": 8, "titleFont": "Liberation Serif", "titleFontWeight": "normal", "titleColor": "#555", "titleFontSize": 11},
 "legend": {"orient": "none", "legendX": 197, "legendY": 337, "labelFont": "Liberation Serif", "labelFontSize": 11, "labelColor": "#555", "labelLimit": 400, "symbolStrokeWidth": 1.5, "symbolSize": 34, "rowPadding": 1.5, "labelOffset": 10, "padding": 0}
}
}
